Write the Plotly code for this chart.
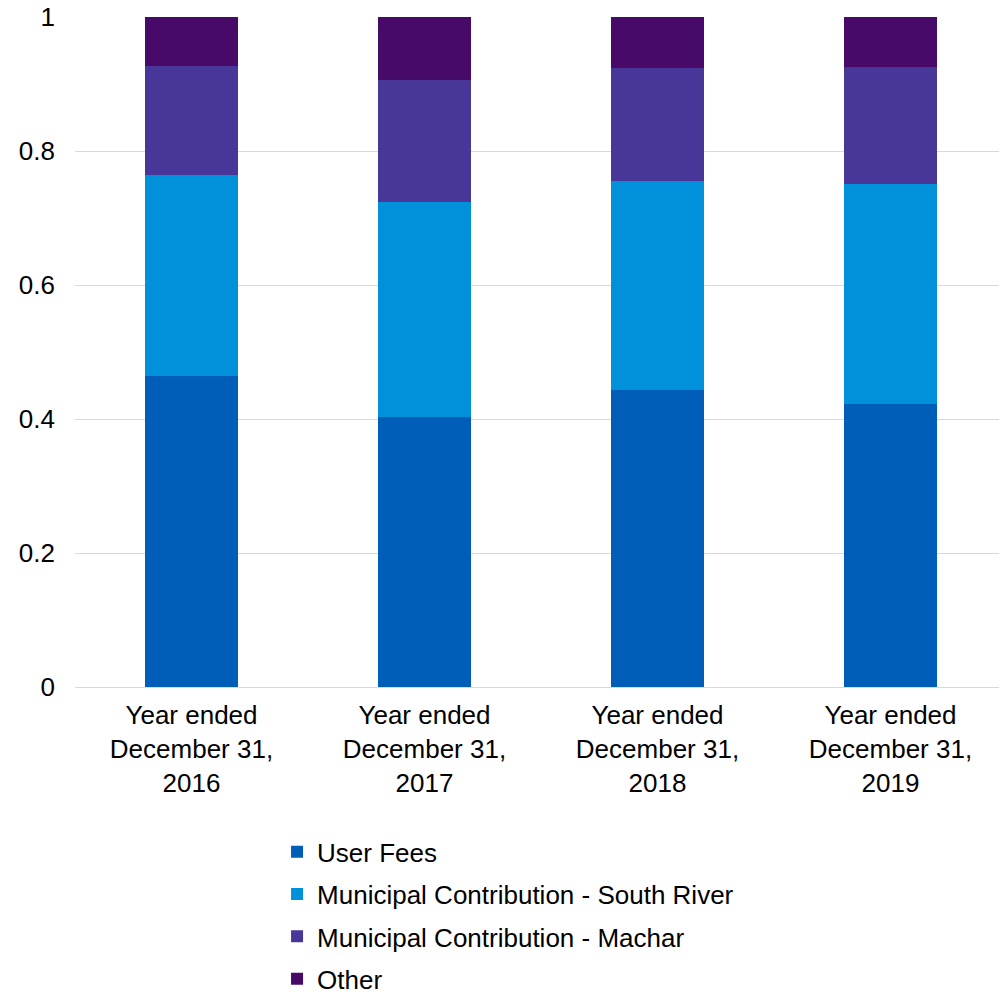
import plotly.graph_objects as go

categories = ["Year ended<br>December 31,<br>2016", "Year ended<br>December 31,<br>2017",
              "Year ended<br>December 31,<br>2018", "Year ended<br>December 31,<br>2019"]
user_fees = [0.4635, 0.4034, 0.4433, 0.4224]
south_river = [0.3009, 0.3202, 0.3117, 0.3281]
machar = [0.1625, 0.1824, 0.1685, 0.1745]
other = [0.0731, 0.0940, 0.0765, 0.0750]

series = [
    ("User Fees", user_fees, "#005EB8"),
    ("Municipal Contribution - South River", south_river, "#0091DA"),
    ("Municipal Contribution - Machar", machar, "#483698"),
    ("Other", other, "#470A68"),
]

fig = go.Figure()
for i, (name, vals, col) in enumerate(series):
    fig.add_trace(go.Bar(x=categories, y=vals, name=name, marker_color=col,
                         marker_line_width=0, legendgroup=f"g{i}"))

font = dict(family="Liberation Sans, Arial, sans-serif", size=26, color="#000000")
fig.update_layout(
    barmode="stack",
    bargap=0.6,
    width=999, height=984,
    margin=dict(l=67, r=0, t=9, b=304.5, autoexpand=False),
    paper_bgcolor="white", plot_bgcolor="white",
    font=font,
    showlegend=True,
    legend=dict(orientation="v", x=0.2168, xanchor="left", y=-0.211, yanchor="top",
                font=font, tracegroupgap=5.5, traceorder="grouped", bgcolor="rgba(0,0,0,0)"),
    yaxis=dict(range=[0, 1], tickvals=[0, 0.2, 0.4, 0.6, 0.8, 1],
               ticktext=["0", "0.2", "0.4", "0.6", "0.8", "1"],
               showgrid=True, gridcolor="#D9D9D9", gridwidth=1.3, zeroline=False,
               showline=False, ticks="", ticklabelstandoff=19, ticklabeloverflow="allow"),
    xaxis=dict(showline=True, linecolor="#D9D9D9", linewidth=1.3, ticks="",
               showgrid=False, ticklabelstandoff=5),
)
fig.write_html("out.html")
